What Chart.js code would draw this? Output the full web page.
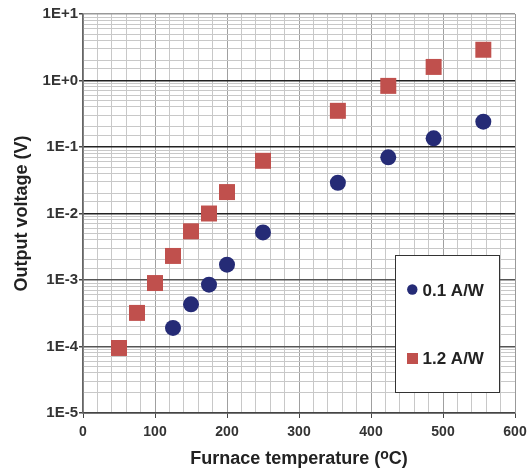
<!DOCTYPE html>
<html>
<head>
<meta charset="utf-8">
<script src="https://cdn.jsdelivr.net/npm/chart.js@4"></script>
<style>
  html, body { margin: 0; padding: 0; background: #fff; }
  #wrap { position: relative; width: 528px; height: 468px; }
</style>
</head>
<body>
<div id="wrap"><canvas id="c"></canvas></div>
<script>
// Readings (log-scale y, so values are estimated per decade).
const temps01 = [125, 150, 175, 200, 250, 354, 424, 487, 556];
const volts01 = [1.9e-4, 4.3e-4, 8.5e-4, 1.7e-3, 5.2e-3, 0.029, 0.070, 0.135, 0.24];
const temps12 = [50, 75, 100, 125, 150, 175, 200, 250, 354, 424, 487, 556];
const volts12 = [9.5e-5, 3.2e-4, 9.0e-4, 2.3e-3, 5.4e-3, 1.0e-2, 0.021, 0.062, 0.35, 0.83, 1.6, 2.9];
const seriesLabels = ['0.1 A/W', '1.2 A/W'];
const yTickLabels = { '-5': '1E-5', '-4': '1E-4', '-3': '1E-3', '-2': '1E-2', '-1': '1E-1', '0': '1E+0', '1': '1E+1' };

const FONT = '"Liberation Sans", Arial, sans-serif';
const BLUE = '#252B76';
const RED = '#C0504D';

const pts = (xs, ys) => xs.map((x, i) => ({ x, y: ys[i] }));
// exponent of a decade tick, or null for the 2..9 minor ticks
const decade = (v) => {
  const e = Math.round(Math.log10(v));
  return Math.abs(v - Math.pow(10, e)) < Math.pow(10, e) * 1e-6 ? e : null;
};

// x title carries a superscript "o", so it is drawn by hand; plus the legend box.
const extras = {
  id: 'extras',
  afterDraw(chart) {
    const { ctx, chartArea: a } = chart;
    ctx.save();
    // right border
    ctx.strokeStyle = '#999';
    ctx.lineWidth = 1;
    ctx.beginPath();
    ctx.moveTo(a.right + 0.5, a.top);
    ctx.lineTo(a.right + 0.5, a.bottom);
    ctx.stroke();

    // x title
    ctx.fillStyle = '#222';
    ctx.textBaseline = 'alphabetic';
    const big = 'bold 18px ' + FONT, small = 'bold 14px ' + FONT;
    const p1 = 'Furnace temperature (', p2 = 'o', p3 = 'C)';
    ctx.font = big; const w1 = ctx.measureText(p1).width, w3 = ctx.measureText(p3).width;
    ctx.font = small; const w2 = ctx.measureText(p2).width;
    let x = (a.left + a.right) / 2 - (w1 + w2 + w3) / 2;
    const base = 464;
    ctx.textAlign = 'left';
    ctx.font = big; ctx.fillText(p1, x, base); x += w1;
    ctx.font = small; ctx.fillText(p2, x, base - 5.5); x += w2;
    ctx.font = big; ctx.fillText(p3, x, base);

    // legend
    const bx = 395, by = 255, bw = 104, bh = 137;
    ctx.fillStyle = '#fff';
    ctx.fillRect(bx, by, bw, bh);
    ctx.strokeStyle = '#333';
    ctx.strokeRect(bx + 0.5, by + 0.5, bw, bh);
    ctx.font = 'bold 17px ' + FONT;
    ctx.textBaseline = 'middle';
    const rows = [290, 358.5];
    chart.data.datasets.forEach((ds, i) => {
      const cy = rows[i];
      ctx.fillStyle = ds.backgroundColor;
      if (ds.pointStyle === 'rect') ctx.fillRect(407, cy - 5.5, 11, 11);
      else { ctx.beginPath(); ctx.arc(412.3, cy - 0.5, 5.2, 0, Math.PI * 2); ctx.fill(); }
      ctx.fillStyle = '#222';
      ctx.fillText(ds.label, 422.5, cy + 1);
    });
    ctx.restore();
  }
};

new Chart(document.getElementById('c'), {
  type: 'scatter',
  data: {
    datasets: [
      { label: seriesLabels[0], data: pts(temps01, volts01), backgroundColor: BLUE, borderWidth: 0,
        pointStyle: 'circle', pointRadius: 8, pointHoverRadius: 8 },
      { label: seriesLabels[1], data: pts(temps12, volts12), backgroundColor: RED, borderWidth: 0,
        pointStyle: 'rect', pointRadius: 11.3, pointHoverRadius: 11.3 },
    ],
  },
  options: {
    responsive: true,
    maintainAspectRatio: false,
    animation: false,
    layout: { padding: { left: 0, top: 14, right: 13, bottom: 0 } },
    plugins: { legend: { display: false }, tooltip: { enabled: false } },
    scales: {
      x: {
        type: 'linear', min: 0, max: 600,
        afterFit: (s) => { s.height = 55; s.paddingLeft = 0; s.paddingRight = 0; },
        ticks: {
          stepSize: 20, autoSkip: false, maxRotation: 0, padding: 6,
          color: '#333', font: { family: FONT, size: 14, weight: 'bold' },
          callback: (v) => (v % 100 === 0 ? String(v) : ''),
        },
        grid: {
          lineWidth: 1, tickLength: 5,
          color: (c) => (c.tick && c.tick.value % 100 === 0 ? '#a0a0a0' : '#c8c8c8'),
          tickColor: (c) => (c.tick && c.tick.value % 100 === 0 ? '#444' : 'rgba(0,0,0,0)'),
        },
        border: { color: '#444', width: 1.5 },
      },
      y: {
        type: 'logarithmic', min: 1e-5, max: 10,
        afterFit: (s) => { s.width = 83; s.paddingTop = 0; s.paddingBottom = 0; },
        title: {
          display: true, text: 'Output voltage (V)', color: '#222',
          font: { family: FONT, size: 18, weight: 'bold' }, padding: { top: 11, bottom: 0 },
        },
        ticks: {
          autoSkip: false, padding: 1,
          color: '#333', font: { family: FONT, size: 15, weight: 'bold' },
          callback: (v) => { const e = decade(v); return e === null ? '' : yTickLabels[String(e)]; },
        },
        grid: {
          tickLength: 4,
          lineWidth: (c) => (c.tick && decade(c.tick.value) !== null ? 1.5 : 1),
          color: (c) => {
            if (!c.tick) return '#c8c8c8';
            const e = decade(c.tick.value);
            if (e === 1) return '#999';
            if (e === null) return '#c8c8c8';
            return e <= -3 ? '#555' : '#222';
          },
          tickColor: (c) => (c.tick && decade(c.tick.value) !== null ? '#444' : 'rgba(0,0,0,0)'),
        },
        border: { color: '#666', width: 1.5 },
      },
    },
  },
  plugins: [extras],
});
</script>
</body>
</html>
